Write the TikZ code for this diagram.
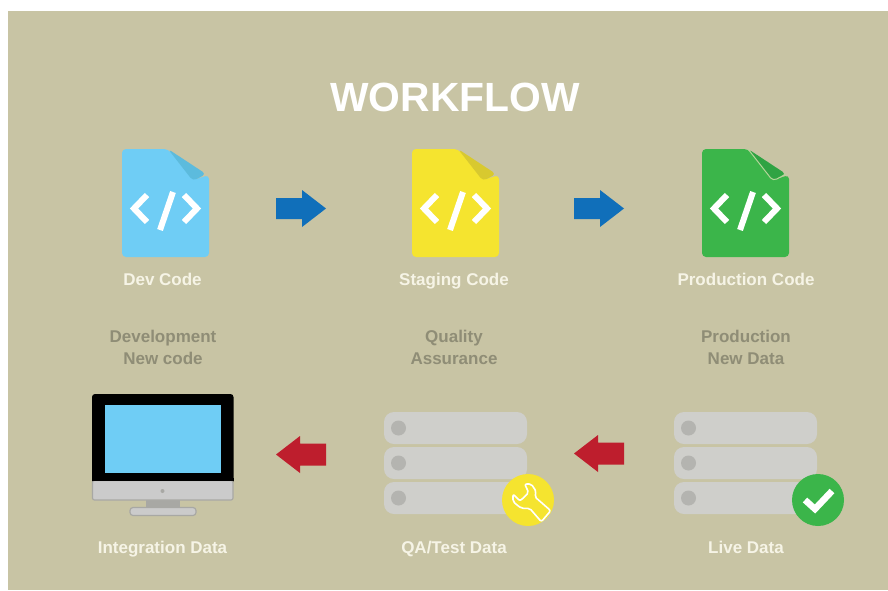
\documentclass[tikz,border=0pt]{standalone}
\usepackage{fontspec}
\setmainfont{Liberation Sans}
\definecolor{bgc}{HTML}{C8C4A4}
\definecolor{txtc}{HTML}{F6F4E6}
\definecolor{subc}{HTML}{8F8D76}
\definecolor{docblue}{HTML}{6FCDF5}
\definecolor{foldblue}{HTML}{5CBBDD}
\definecolor{edgeblue}{HTML}{A9C9CC}
\definecolor{docyellow}{HTML}{F5E42F}
\definecolor{foldyellow}{HTML}{D8C92F}
\definecolor{docgreen}{HTML}{3BB54A}
\definecolor{foldgreen}{HTML}{2FA343}
\definecolor{edgegreen}{HTML}{B5D59A}
\definecolor{arrblue}{HTML}{106FBA}
\definecolor{arrred}{HTML}{BE1E2D}
\definecolor{srv}{HTML}{CFCFCB}
\definecolor{srvdot}{HTML}{B4B4B0}
\definecolor{silver}{HTML}{CBCBCB}
\definecolor{silveredge}{HTML}{A8A8A4}
\tikzset{
  x=1pt,y=-1pt,
  title/.style={font=\fontsize{40.8}{41}\selectfont\bfseries,text=white,inner sep=0pt},
  lbl/.style={font=\fontsize{17}{21}\selectfont\bfseries,text=txtc,inner sep=0pt,anchor=base},
  sublbl/.style={font=\fontsize{17}{22}\selectfont\bfseries,text=subc,inner sep=0pt,align=center},
  codeline/.style={draw=white,line width=6pt,line join=miter},
  foldc/.style={fill=foldblue},
  foldedge/.style={draw=none},
  doc/.pic={
    \fill[pic actions,rounded corners=4pt] (0,0) -- (46,0) -- (71,31) -- (87,26) -- (87,108) -- (0,108) -- cycle;
    \fill[foldc,rounded corners=4pt] (46,0) -- (84,25) -- (71,32) -- cycle;
    \draw[foldedge,rounded corners=4pt,line width=1pt] (46,0) -- (71,32) -- (84,25);
    \draw[codeline] (25,46) -- (12,59.5) -- (25,73);
    \draw[codeline] (51,43) -- (38,81);
    \draw[codeline] (62,46) -- (75,59.5) -- (62,73);
  },
  rarrow/.pic={\fill[pic actions] (0,-10.5) -- (26,-10.5) -- (26,-18.5) -- (50,0) -- (26,18.5) -- (26,10.5) -- (0,10.5) -- cycle;},
  larrow/.pic={\fill[pic actions] (0,-11) -- (-26,-11) -- (-26,-18.5) -- (-50,0) -- (-26,18.5) -- (-26,11) -- (0,11) -- cycle;},
  server/.pic={
    \foreach \yy in {0,35,70}{
      \fill[srv,rounded corners=10pt] (0,\yy) rectangle (143,\yy+32);
      \fill[srvdot] (14.5,\yy+16) circle[radius=7.5];
    }
  },
}
\begin{document}
\begin{tikzpicture}
\useasboundingbox (0,0) rectangle (888,590);
\fill[white] (0,0) rectangle (888,590);
\fill[bgc] (8,11) rectangle (888,590);
\node[title] (ttl) at (455,97) {WORKFLOW};
% documents
\pic[fill=docblue,foldc/.style={fill=foldblue},foldedge/.style={draw=none}] at (122,149) {doc};
\pic[fill=docyellow,foldc/.style={fill=foldyellow},foldedge/.style={draw=none}] at (412,149) {doc};
\pic[fill=docgreen,foldc/.style={fill=foldgreen},foldedge/.style={draw=edgegreen}] at (702,149) {doc};
% arrows
\pic[fill=arrblue] at (276,208.5) {rarrow};
\pic[fill=arrblue] at (574,208.5) {rarrow};
\pic[fill=arrred] at (326,454.5) {larrow};
\pic[fill=arrred] at (624,453.5) {larrow};
% labels
\node[lbl] (devl) at (162.5,285) {Dev Code};
\node[lbl] (stgl) at (454,285) {Staging Code};
\node[lbl] (prdl) at (746,285) {Production Code};
\node[sublbl] (devs) at (163,347) {Development\\New code};
\node[sublbl] (stgs) at (454,347) {Quality\\Assurance};
\node[sublbl] (prds) at (746,347) {Production\\New Data};
\node[lbl] (intl) at (162.5,553.5) {Integration Data};
\node[lbl] (qal) at (454,553.5) {QA/Test Data};
\node[lbl] (livl) at (746,553.5) {Live Data};
% monitor
\fill[silveredge] (146,498) rectangle (180,508);
\fill[silver,draw=silveredge,line width=1.2pt,rounded corners=3pt] (130,507.5) rectangle (196,515.5);
\fill[black,rounded corners=3pt] (92,394) rectangle (233.5,484);
\fill[silver,draw=silveredge,line width=1.2pt,rounded corners=2pt] (92.5,480.5) -- (233,480.5) -- (233,500) -- (92.5,500) -- cycle;
\fill[black] (92,478) rectangle (233.5,480.5);
\fill[docblue] (104.5,405) rectangle (221,472.5);
\fill[silveredge] (162.5,491) circle[radius=2];
% servers
\pic at (384,412) {server};
\pic at (674,412) {server};
% wrench badge
\fill[docyellow] (528,500) circle[radius=26];
\draw[white,line width=1.6pt,line join=round,line cap=round,rounded corners=2pt]
  (513,494) -- (520,501) -- (528.7,492.7) -- (524.7,484) -- (531.3,484) -- (536.3,491.7)
  -- (534.7,496.7) -- (550.7,510.7) -- (541.3,521.7) -- (529.7,508.3) -- (521.3,508.3)
  -- (513,501.7) -- cycle;
% check badge
\fill[docgreen] (818,500) circle[radius=26];
\draw[white,line width=6.5pt,line join=miter] (805,500) -- (815,509) -- (832,491);
\end{tikzpicture}
\end{document}
